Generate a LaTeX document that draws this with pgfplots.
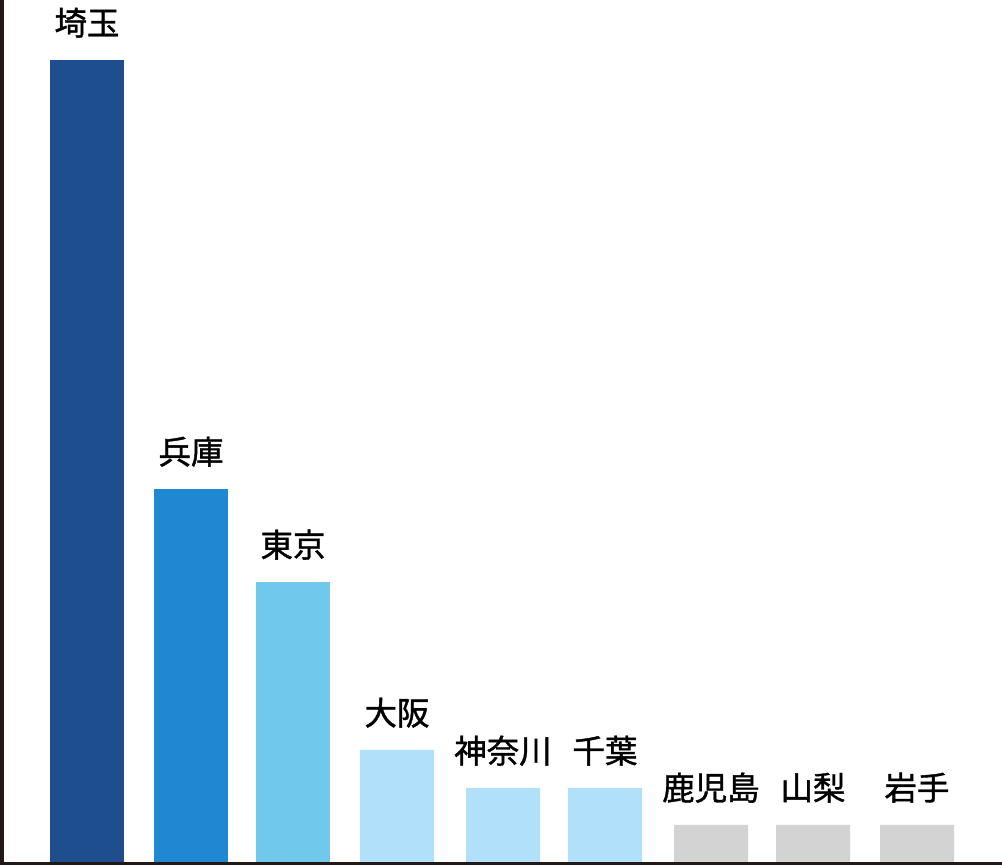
\documentclass[border=0pt]{standalone}
\usepackage{pgfplots}
\pgfplotsset{compat=1.18}
\usepackage{fontspec}
\setmainfont{Noto Sans CJK JP}
\newfontfamily\cjk[FakeBold=1.2]{Noto Sans CJK JP}
\definecolor{c1}{HTML}{1F4E8F}
\definecolor{c2}{HTML}{1E88D3}
\definecolor{c3}{HTML}{70C8EC}
\definecolor{c4}{HTML}{B1E0FB}
\definecolor{c5}{HTML}{D3D3D3}
\definecolor{ax}{HTML}{231815}
\begin{document}
\begin{tikzpicture}
\begin{axis}[
  scale only axis,
  width=1000pt, height=864pt,
  xmin=2, xmax=1002,
  ymin=0, ymax=864,
  axis line style={draw=none},
  ticks=none,
  clip=false,
  ybar, bar width=74, bar shift=0pt,
  point meta=explicit symbolic,
  nodes near coords,
  every node near coord/.style={anchor=base, inner sep=0pt, yshift=25pt, font=\cjk\fontsize{32.5}{32}\selectfont, text=black},
]
\addplot[fill=c1, draw=none] coordinates {(87,804) [埼玉]};
\addplot[fill=c2, draw=none] coordinates {(191,375) [兵庫]};
\addplot[fill=c3, draw=none] coordinates {(293,282) [東京]};
\addplot[fill=c4, draw=none] coordinates {(397,114) [大阪] (503,76) [神奈川] (605,76) [千葉]};
\addplot[fill=c5, draw=none] coordinates {(711,39) [鹿児島] (813,39) [山梨] (917,39) [岩手]};
\coordinate (sw) at (rel axis cs:0,0);
\coordinate (ne) at (rel axis cs:1,1);
\draw[ax, line width=3pt] (rel axis cs:0,0) -- (rel axis cs:1,0);
\draw[ax, line width=4pt] (rel axis cs:0,-0.0017) -- (rel axis cs:0,1);
\end{axis}
\pgfresetboundingbox
\path (sw) ++(-2pt,-4pt) rectangle (ne);
\end{tikzpicture}
\end{document}
